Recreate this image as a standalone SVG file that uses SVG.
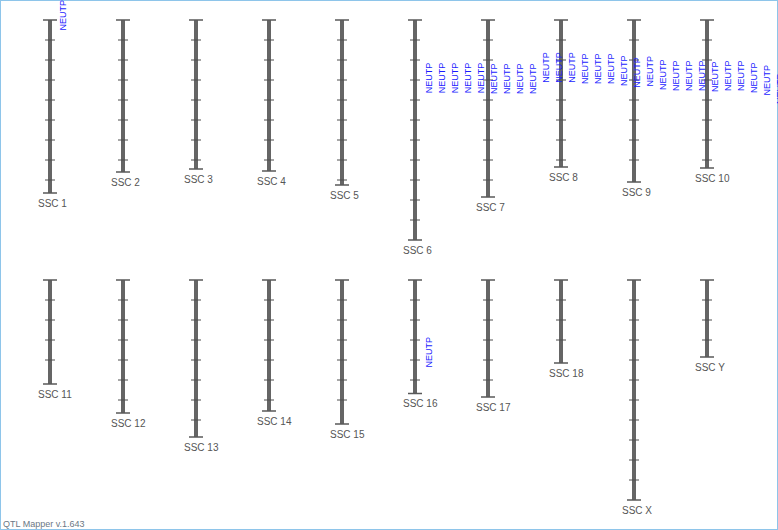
<svg xmlns="http://www.w3.org/2000/svg" width="778" height="530" viewBox="0 0 778 530">
<style>
.bar{fill:#656565}
.cap{stroke:#595959;stroke-width:1.6;fill:none}
.tick{stroke:#4e4e4e;stroke-width:1;fill:none}
.lbl{font-family:"Liberation Sans",Arial,sans-serif;font-size:10px;fill:#555}
.q{font-family:"Liberation Sans",Arial,sans-serif;font-size:9px;fill:#1a1aff}
.foot{font-family:"Liberation Sans",Arial,sans-serif;font-size:9px;fill:#6b7785}
</style>
<rect x="0.5" y="0.5" width="777" height="529" fill="#fff" stroke="#8ec5ea" stroke-width="1"/>
<g id="connectors"/>
<g id="ssc1"><rect class="bar" x="48" y="20" width="4" height="173"/><path class="cap" d="M43 20H57M43 193H57"/><path class="tick" d="M45 40H55M45 60H55M45 80H55M45 100H55M45 120H55M45 140H55M45 160H55M45 180H55"/><text class="lbl" x="38" y="206.5">SSC 1</text></g>
<g id="ssc2"><rect class="bar" x="121" y="20" width="4" height="152"/><path class="cap" d="M116 20H130M116 172H130"/><path class="tick" d="M118 40H128M118 60H128M118 80H128M118 100H128M118 120H128M118 140H128M118 160H128"/><text class="lbl" x="111" y="185.5">SSC 2</text></g>
<g id="ssc3"><rect class="bar" x="194" y="20" width="4" height="149"/><path class="cap" d="M189 20H203M189 169H203"/><path class="tick" d="M191 40H201M191 60H201M191 80H201M191 100H201M191 120H201M191 140H201M191 160H201"/><text class="lbl" x="184" y="182.5">SSC 3</text></g>
<g id="ssc4"><rect class="bar" x="267" y="20" width="4" height="151"/><path class="cap" d="M262 20H276M262 171H276"/><path class="tick" d="M264 40H274M264 60H274M264 80H274M264 100H274M264 120H274M264 140H274M264 160H274"/><text class="lbl" x="257" y="184.5">SSC 4</text></g>
<g id="ssc5"><rect class="bar" x="340" y="20" width="4" height="165"/><path class="cap" d="M335 20H349M335 185H349"/><path class="tick" d="M337 40H347M337 60H347M337 80H347M337 100H347M337 120H347M337 140H347M337 160H347M337 180H347"/><text class="lbl" x="330" y="198.5">SSC 5</text></g>
<g id="ssc6"><rect class="bar" x="413" y="20" width="4" height="220"/><path class="cap" d="M408 20H422M408 240H422"/><path class="tick" d="M410 40H420M410 60H420M410 80H420M410 100H420M410 120H420M410 140H420M410 160H420M410 180H420M410 200H420M410 220H420"/><text class="lbl" x="403" y="253.5">SSC 6</text></g>
<g id="ssc7"><rect class="bar" x="486" y="20" width="4" height="177"/><path class="cap" d="M481 20H495M481 197H495"/><path class="tick" d="M483 40H493M483 60H493M483 80H493M483 100H493M483 120H493M483 140H493M483 160H493M483 180H493"/><text class="lbl" x="476" y="210.5">SSC 7</text></g>
<g id="ssc8"><rect class="bar" x="559" y="20" width="4" height="147"/><path class="cap" d="M554 20H568M554 167H568"/><path class="tick" d="M556 40H566M556 60H566M556 80H566M556 100H566M556 120H566M556 140H566M556 160H566"/><text class="lbl" x="549" y="180.5">SSC 8</text></g>
<g id="ssc9"><rect class="bar" x="632" y="20" width="4" height="162"/><path class="cap" d="M627 20H641M627 182H641"/><path class="tick" d="M629 40H639M629 60H639M629 80H639M629 100H639M629 120H639M629 140H639M629 160H639"/><text class="lbl" x="622" y="195.5">SSC 9</text></g>
<g id="ssc10"><rect class="bar" x="705" y="20" width="4" height="148"/><path class="cap" d="M700 20H714M700 168H714"/><path class="tick" d="M702 40H712M702 60H712M702 80H712M702 100H712M702 120H712M702 140H712M702 160H712"/><text class="lbl" x="695" y="181.5">SSC 10</text></g>
<g id="ssc11"><rect class="bar" x="48" y="280" width="4" height="104"/><path class="cap" d="M43 280H57M43 384H57"/><path class="tick" d="M45 300H55M45 320H55M45 340H55M45 360H55"/><text class="lbl" x="38" y="397.5">SSC 11</text></g>
<g id="ssc12"><rect class="bar" x="121" y="280" width="4" height="133"/><path class="cap" d="M116 280H130M116 413H130"/><path class="tick" d="M118 300H128M118 320H128M118 340H128M118 360H128M118 380H128M118 400H128"/><text class="lbl" x="111" y="426.5">SSC 12</text></g>
<g id="ssc13"><rect class="bar" x="194" y="280" width="4" height="157"/><path class="cap" d="M189 280H203M189 437H203"/><path class="tick" d="M191 300H201M191 320H201M191 340H201M191 360H201M191 380H201M191 400H201M191 420H201"/><text class="lbl" x="184" y="450.5">SSC 13</text></g>
<g id="ssc14"><rect class="bar" x="267" y="280" width="4" height="131"/><path class="cap" d="M262 280H276M262 411H276"/><path class="tick" d="M264 300H274M264 320H274M264 340H274M264 360H274M264 380H274M264 400H274"/><text class="lbl" x="257" y="424.5">SSC 14</text></g>
<g id="ssc15"><rect class="bar" x="340" y="280" width="4" height="144"/><path class="cap" d="M335 280H349M335 424H349"/><path class="tick" d="M337 300H347M337 320H347M337 340H347M337 360H347M337 380H347M337 400H347"/><text class="lbl" x="330" y="437.5">SSC 15</text></g>
<g id="ssc16"><rect class="bar" x="413" y="280" width="4" height="113.5"/><path class="cap" d="M408 280H422M408 393.5H422"/><path class="tick" d="M410 300H420M410 320H420M410 340H420M410 360H420M410 380H420"/><text class="lbl" x="403" y="407">SSC 16</text></g>
<g id="ssc17"><rect class="bar" x="486" y="280" width="4" height="117"/><path class="cap" d="M481 280H495M481 397H495"/><path class="tick" d="M483 300H493M483 320H493M483 340H493M483 360H493M483 380H493"/><text class="lbl" x="476" y="410.5">SSC 17</text></g>
<g id="ssc18"><rect class="bar" x="559" y="280" width="4" height="83"/><path class="cap" d="M554 280H568M554 363H568"/><path class="tick" d="M556 300H566M556 320H566M556 340H566"/><text class="lbl" x="549" y="376.5">SSC 18</text></g>
<g id="sscX"><rect class="bar" x="632" y="280" width="4" height="220"/><path class="cap" d="M627 280H641M627 500H641"/><path class="tick" d="M629 300H639M629 320H639M629 340H639M629 360H639M629 380H639M629 400H639M629 420H639M629 440H639M629 460H639M629 480H639"/><text class="lbl" x="622" y="513.5">SSC X</text></g>
<g id="sscY"><rect class="bar" x="705" y="280" width="4" height="77"/><path class="cap" d="M700 280H714M700 357H714"/><path class="tick" d="M702 300H712M702 320H712M702 340H712"/><text class="lbl" x="695" y="370.5">SSC Y</text></g>
<g id="qtl-labels">
<text class="q" transform="translate(66,30.5) rotate(-90)">NEUTP</text>
<text class="q" transform="translate(431.5,367.5) rotate(-90)">NEUTP</text>
<text class="q" transform="translate(431.5,93.3) rotate(-90)">NEUTP</text>
<text class="q" transform="translate(444.5,93.3) rotate(-90)">NEUTP</text>
<text class="q" transform="translate(457.5,93.3) rotate(-90)">NEUTP</text>
<text class="q" transform="translate(470.5,93.3) rotate(-90)">NEUTP</text>
<text class="q" transform="translate(483.5,93.3) rotate(-90)">NEUTP</text>
<text class="q" transform="translate(496.5,94) rotate(-90)">NEUTP</text>
<text class="q" transform="translate(509.5,94) rotate(-90)">NEUTP</text>
<text class="q" transform="translate(522.5,94) rotate(-90)">NEUTP</text>
<text class="q" transform="translate(535.5,94) rotate(-90)">NEUTP</text>
<text class="q" transform="translate(548.5,82.7) rotate(-90)">NEUTP</text>
<text class="q" transform="translate(561.5,82.7) rotate(-90)">NEUTP</text>
<text class="q" transform="translate(574.5,82.7) rotate(-90)">NEUTP</text>
<text class="q" transform="translate(587.5,84) rotate(-90)">NEUTP</text>
<text class="q" transform="translate(600.5,84) rotate(-90)">NEUTP</text>
<text class="q" transform="translate(613.5,84) rotate(-90)">NEUTP</text>
<text class="q" transform="translate(626.5,86) rotate(-90)">NEUTP</text>
<text class="q" transform="translate(639.5,87.7) rotate(-90)">NEUTP</text>
<text class="q" transform="translate(652.5,86.5) rotate(-90)">NEUTP</text>
<text class="q" transform="translate(665.5,90) rotate(-90)">NEUTP</text>
<text class="q" transform="translate(678.5,91) rotate(-90)">NEUTP</text>
<text class="q" transform="translate(691.5,91) rotate(-90)">NEUTP</text>
<text class="q" transform="translate(704.5,91) rotate(-90)">NEUTP</text>
<text class="q" transform="translate(717.5,92) rotate(-90)">NEUTP</text>
<text class="q" transform="translate(730.5,91) rotate(-90)">NEUTP</text>
<text class="q" transform="translate(743.5,91) rotate(-90)">NEUTP</text>
<text class="q" transform="translate(756.5,93) rotate(-90)">NEUTP</text>
<text class="q" transform="translate(769.5,95.5) rotate(-90)">NEUTP</text>
<text class="q" transform="translate(782.5,104) rotate(-90)">NEUTP</text>
</g>
<text class="foot" x="3" y="527">QTL Mapper v.1.643</text>
</svg>
